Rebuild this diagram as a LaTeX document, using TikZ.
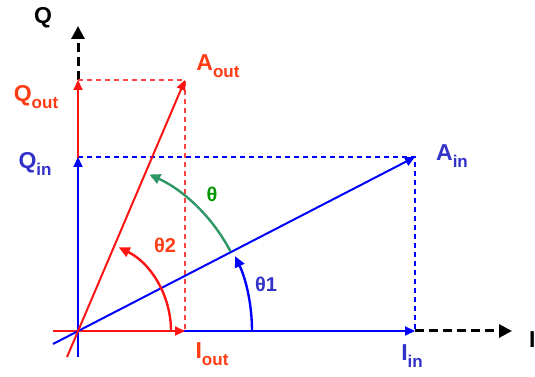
\documentclass[tikz,border=0pt]{standalone}
\usepackage{fontspec}
\setmainfont{Liberation Sans}
\usetikzlibrary{arrows.meta}
\definecolor{vred}{RGB}{255,20,20}
\definecolor{lred}{RGB}{255,60,20}
\definecolor{vblue}{RGB}{0,0,255}
\definecolor{lblue}{RGB}{50,50,200}
\definecolor{agreen}{RGB}{45,150,100}
\definecolor{lgreen}{RGB}{0,150,0}
\newcommand{\lowsub}[1]{\raisebox{-0.28em}{\fontsize{17}{17}\selectfont #1}}
\begin{document}
\begin{tikzpicture}[x=1pt, y=1pt,
    vec/.style={line width=2pt, -{Triangle[length=10pt,width=9pt]}},
    axis/.style={line width=3pt, dash pattern=on 9pt off 5pt, -{Triangle[length=13pt,width=13pt]}},
    proj/.style={line width=1.3pt, dash pattern=on 5pt off 4pt},
    ang/.style={line width=2.4pt, -{Triangle[length=11pt,width=10pt]}},
    lbl/.style={font=\fontsize{23}{26}\selectfont\bfseries, inner sep=0pt},
    ang lbl/.style={font=\fontsize{20}{24}\selectfont\bfseries, inner sep=0pt}]
  \useasboundingbox (-78,-46) rectangle (457,331);
  % Points
  \coordinate (O) at (0,0);
  \coordinate (Qin) at (0,174);
  \coordinate (Qout) at (0,251);
  \coordinate (Iin) at (337,0);
  \coordinate (Iout) at (107,0);
  \coordinate (Ain) at (337,174);
  \coordinate (Aout) at (107,251);
  \coordinate (Qtip) at (0,305);
  \coordinate (Itip) at (434,0);
  \coordinate (Itail) at (-25,0);
  \coordinate (Qtail) at (0,-26);
  \coordinate (Aintail) at (-25,-13);
  \coordinate (Aouttail) at (-11,-26);
  % Dashed axis ends
  \draw[axis] (Qout) -- (Qtip);
  \draw[axis] (Iin) -- (Itip);
  % Projections
  \draw[proj, vred!80!white] (Qout) -- (Aout) -- (Iout);
  \draw[proj, vblue] (Qin) -- (Ain) -- (Iin);
  % Components
  \draw[vec, vblue] (O) -- (Iin);
  \draw[vec, vred] (Itail) -- (Iout);
  \draw[vec, vred] (O) -- (Qout);
  \draw[vec, vblue] (Qtail) -- (Qin);
  % Vectors
  \draw[vec, vblue] (Aintail) -- (Ain);
  \draw[vec, vred] (Aouttail) -- (Aout);
  % Angles
  \draw[ang, vblue] (174,0) arc[start angle=0, end angle=25.5, radius=174];
  \draw[ang, vred] (93,0) arc[start angle=0, end angle=64, radius=93];
  \draw[ang, agreen] (27.6:172) arc[start angle=27.6, end angle=65.5, radius=172];
  % Labels
  \node[lbl] (Qlbl) at (-35,313) {Q};
  \node[lbl, anchor=west] (Ilbl) at (451,-9) {I};
  \node[lbl, lred] (Qoutlbl) at (-42,234) {Q\lowsub{out}};
  \node[lbl, lblue] (Qinlbl) at (-43,167) {Q\lowsub{in}};
  \node[lbl, lred] (Aoutlbl) at (140,265) {A\lowsub{out}};
  \node[lbl, lblue] (Ainlbl) at (374,175) {A\lowsub{in}};
  \node[lbl, lred] (Ioutlbl) at (134,-23) {I\lowsub{out}};
  \node[lbl, lblue] (Iinlbl) at (334,-25) {I\lowsub{in}};
  \node[ang lbl, lblue] (t1lbl) at (188,47) {θ1};
  \node[ang lbl, lred] (t2lbl) at (87,86) {θ2};
  \node[ang lbl, lgreen] (tlbl) at (134,137) {θ};
\end{tikzpicture}
\end{document}
